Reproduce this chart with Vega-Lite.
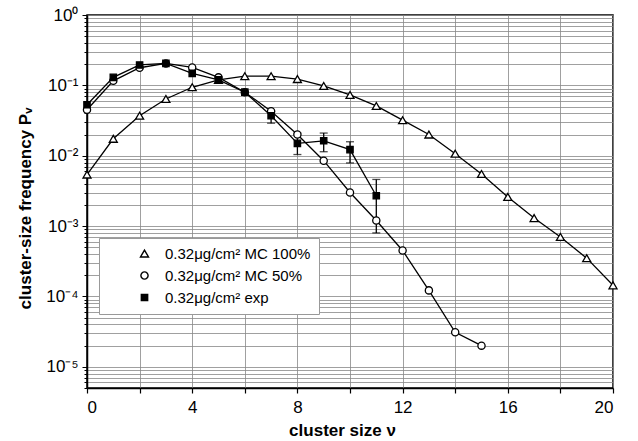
{
  "$schema": "https://vega.github.io/schema/vega-lite/v6.json",
  "width": 526,
  "height": 373,
  "autosize": {"type": "none"},
  "padding": {"left": 87, "top": 15, "right": 25, "bottom": 53},
  "background": "white",
  "config": {
    "view": {"stroke": "black", "strokeWidth": 1.5},
    "font": "Liberation Sans"
  },
  "data": {"values": [
    {"series": "0.32μg/cm² MC 100%", "x": 0, "y": 0.0054},
    {"series": "0.32μg/cm² MC 100%", "x": 1, "y": 0.0174},
    {"series": "0.32μg/cm² MC 100%", "x": 2, "y": 0.037},
    {"series": "0.32μg/cm² MC 100%", "x": 3, "y": 0.064},
    {"series": "0.32μg/cm² MC 100%", "x": 4, "y": 0.094},
    {"series": "0.32μg/cm² MC 100%", "x": 5, "y": 0.12},
    {"series": "0.32μg/cm² MC 100%", "x": 6, "y": 0.135},
    {"series": "0.32μg/cm² MC 100%", "x": 7, "y": 0.135},
    {"series": "0.32μg/cm² MC 100%", "x": 8, "y": 0.123},
    {"series": "0.32μg/cm² MC 100%", "x": 9, "y": 0.098},
    {"series": "0.32μg/cm² MC 100%", "x": 10, "y": 0.073},
    {"series": "0.32μg/cm² MC 100%", "x": 11, "y": 0.051},
    {"series": "0.32μg/cm² MC 100%", "x": 12, "y": 0.032},
    {"series": "0.32μg/cm² MC 100%", "x": 13, "y": 0.02},
    {"series": "0.32μg/cm² MC 100%", "x": 14, "y": 0.0107},
    {"series": "0.32μg/cm² MC 100%", "x": 15, "y": 0.0055},
    {"series": "0.32μg/cm² MC 100%", "x": 16, "y": 0.0026},
    {"series": "0.32μg/cm² MC 100%", "x": 17, "y": 0.0013},
    {"series": "0.32μg/cm² MC 100%", "x": 18, "y": 0.0007},
    {"series": "0.32μg/cm² MC 100%", "x": 19, "y": 0.00035},
    {"series": "0.32μg/cm² MC 100%", "x": 20, "y": 0.000144},
    {"series": "0.32μg/cm² MC 50%", "x": 0, "y": 0.045},
    {"series": "0.32μg/cm² MC 50%", "x": 1, "y": 0.116},
    {"series": "0.32μg/cm² MC 50%", "x": 2, "y": 0.178},
    {"series": "0.32μg/cm² MC 50%", "x": 3, "y": 0.205},
    {"series": "0.32μg/cm² MC 50%", "x": 4, "y": 0.18},
    {"series": "0.32μg/cm² MC 50%", "x": 5, "y": 0.13},
    {"series": "0.32μg/cm² MC 50%", "x": 6, "y": 0.08},
    {"series": "0.32μg/cm² MC 50%", "x": 7, "y": 0.043},
    {"series": "0.32μg/cm² MC 50%", "x": 8, "y": 0.02},
    {"series": "0.32μg/cm² MC 50%", "x": 9, "y": 0.0085},
    {"series": "0.32μg/cm² MC 50%", "x": 10, "y": 0.003},
    {"series": "0.32μg/cm² MC 50%", "x": 11, "y": 0.0012},
    {"series": "0.32μg/cm² MC 50%", "x": 12, "y": 0.00045},
    {"series": "0.32μg/cm² MC 50%", "x": 13, "y": 0.000122},
    {"series": "0.32μg/cm² MC 50%", "x": 14, "y": 0.000031},
    {"series": "0.32μg/cm² MC 50%", "x": 15, "y": 0.00002},
    {"series": "0.32μg/cm² exp", "x": 0, "y": 0.053},
    {"series": "0.32μg/cm² exp", "x": 1, "y": 0.13},
    {"series": "0.32μg/cm² exp", "x": 2, "y": 0.195},
    {"series": "0.32μg/cm² exp", "x": 3, "y": 0.205},
    {"series": "0.32μg/cm² exp", "x": 4, "y": 0.148},
    {"series": "0.32μg/cm² exp", "x": 5, "y": 0.12},
    {"series": "0.32μg/cm² exp", "x": 6, "y": 0.08},
    {"series": "0.32μg/cm² exp", "x": 7, "y": 0.037, "lo": 0.029, "hi": 0.043},
    {"series": "0.32μg/cm² exp", "x": 8, "y": 0.015, "lo": 0.0104, "hi": 0.021},
    {"series": "0.32μg/cm² exp", "x": 9, "y": 0.0163, "lo": 0.0114, "hi": 0.021},
    {"series": "0.32μg/cm² exp", "x": 10, "y": 0.0122, "lo": 0.0079, "hi": 0.0158},
    {"series": "0.32μg/cm² exp", "x": 11, "y": 0.0027, "lo": 0.0008, "hi": 0.0046}
  ]},
  "layer": [
    {
      "mark": {"type": "line", "color": "black", "strokeWidth": 1.3},
      "encoding": {
        "x": {
          "field": "x", "type": "quantitative", "title": "cluster size  ν",
          "scale": {"domain": [0, 20], "nice": false, "zero": false},
          "axis": {
            "values": [0, 2, 4, 6, 8, 10, 12, 14, 16, 18, 20],
            "labelExpr": "datum.value % 4 == 0 ? datum.label : ''",
            "grid": true, "gridColor": "#888888", "gridWidth": 0.8,
            "domainColor": "black", "domainWidth": 1.5,
            "tickColor": "black", "tickSize": 5, "tickWidth": 1.2,
            "labelFontSize": 17, "labelColor": "black", "labelPadding": 6, "labelFont": "Liberation Sans",
            "titleFontSize": 17, "titleFontWeight": "bold", "titleColor": "black", "titleFont": "Liberation Sans",
            "titleX": 255, "titleY": 47, "titleBaseline": "alphabetic"
          }
        },
        "y": {
          "field": "y", "type": "quantitative", "title": "cluster-size frequency Pᵥ",
          "scale": {"type": "log", "domain": [0.000005, 1], "nice": false},
          "axis": {
            "values": [0.000005, 0.000006, 0.000007, 0.000008, 0.000009,
                       0.00001, 0.00002, 0.00003, 0.00004, 0.00005, 0.00006, 0.00007, 0.00008, 0.00009,
                       0.0001, 0.0002, 0.0003, 0.0004, 0.0005, 0.0006, 0.0007, 0.0008, 0.0009,
                       0.001, 0.002, 0.003, 0.004, 0.005, 0.006, 0.007, 0.008, 0.009,
                       0.01, 0.02, 0.03, 0.04, 0.05, 0.06, 0.07, 0.08, 0.09,
                       0.1, 0.2, 0.3, 0.4, 0.5, 0.6, 0.7, 0.8, 0.9, 1],
            "labelExpr": "abs(log(datum.value)/LN10 - round(log(datum.value)/LN10)) < 0.01 ? '10' + ['⁰','⁻¹','⁻²','⁻³','⁻⁴','⁻⁵','⁻⁶'][-round(log(datum.value)/LN10)] : ''",
            "grid": true, "gridColor": "#888888", "gridWidth": 0.8,
            "domainColor": "black", "domainWidth": 1.5,
            "tickColor": "black", "tickWidth": 1,
            "tickSize": {"condition": {"test": "abs(log(datum.value)/LN10 - round(log(datum.value)/LN10)) < 0.01", "value": 5}, "value": 3},
            "labelFontSize": 17, "labelColor": "black", "labelPadding": 4, "labelFont": "Liberation Sans",
            "labelOverlap": false,
            "titleFontSize": 17, "titleFontWeight": "bold", "titleColor": "black", "titleFont": "Liberation Sans",
            "titleX": -57, "titleY": 193, "titleBaseline": "alphabetic"
          }
        },
        "detail": {"field": "series"}
      }
    },
    {
      "transform": [{"filter": "isValid(datum.lo)"}],
      "mark": {"type": "errorbar", "ticks": {"size": 8}, "color": "black", "thickness": 1.3},
      "encoding": {
        "x": {"field": "x", "type": "quantitative", "title": "cluster size  ν"},
        "y": {"field": "lo", "type": "quantitative", "title": "cluster-size frequency Pᵥ"},
        "y2": {"field": "hi"}
      }
    },
    {
      "mark": {"type": "point", "stroke": "black", "strokeWidth": 1.3, "opacity": 1},
      "encoding": {
        "x": {"field": "x", "type": "quantitative", "title": "cluster size  ν"},
        "y": {"field": "y", "type": "quantitative", "title": "cluster-size frequency Pᵥ"},
        "shape": {
          "field": "series", "title": null,
          "scale": {"domain": ["0.32μg/cm² MC 100%", "0.32μg/cm² MC 50%", "0.32μg/cm² exp"], "range": ["triangle-up", "circle", "square"]},
          "legend": {
            "orient": "none", "legendX": 12, "legendY": 223, "title": null,
            "fillColor": "white", "strokeColor": "#999999", "padding": 8,
            "labelFontSize": 15, "labelFont": "Liberation Sans", "labelColor": "black",
            "symbolStrokeWidth": 1.4, "symbolStrokeColor": "black",
            "symbolOffset": 30, "labelOffset": 13, "rowPadding": 6
          }
        },
        "fill": {
          "field": "series", "title": null,
          "scale": {"domain": ["0.32μg/cm² MC 100%", "0.32μg/cm² MC 50%", "0.32μg/cm² exp"], "range": ["white", "white", "black"]}
        },
        "size": {
          "field": "series", "title": null,
          "scale": {"domain": ["0.32μg/cm² MC 100%", "0.32μg/cm² MC 50%", "0.32μg/cm² exp"], "range": [64, 40, 36]}
        }
      }
    }
  ]
}
